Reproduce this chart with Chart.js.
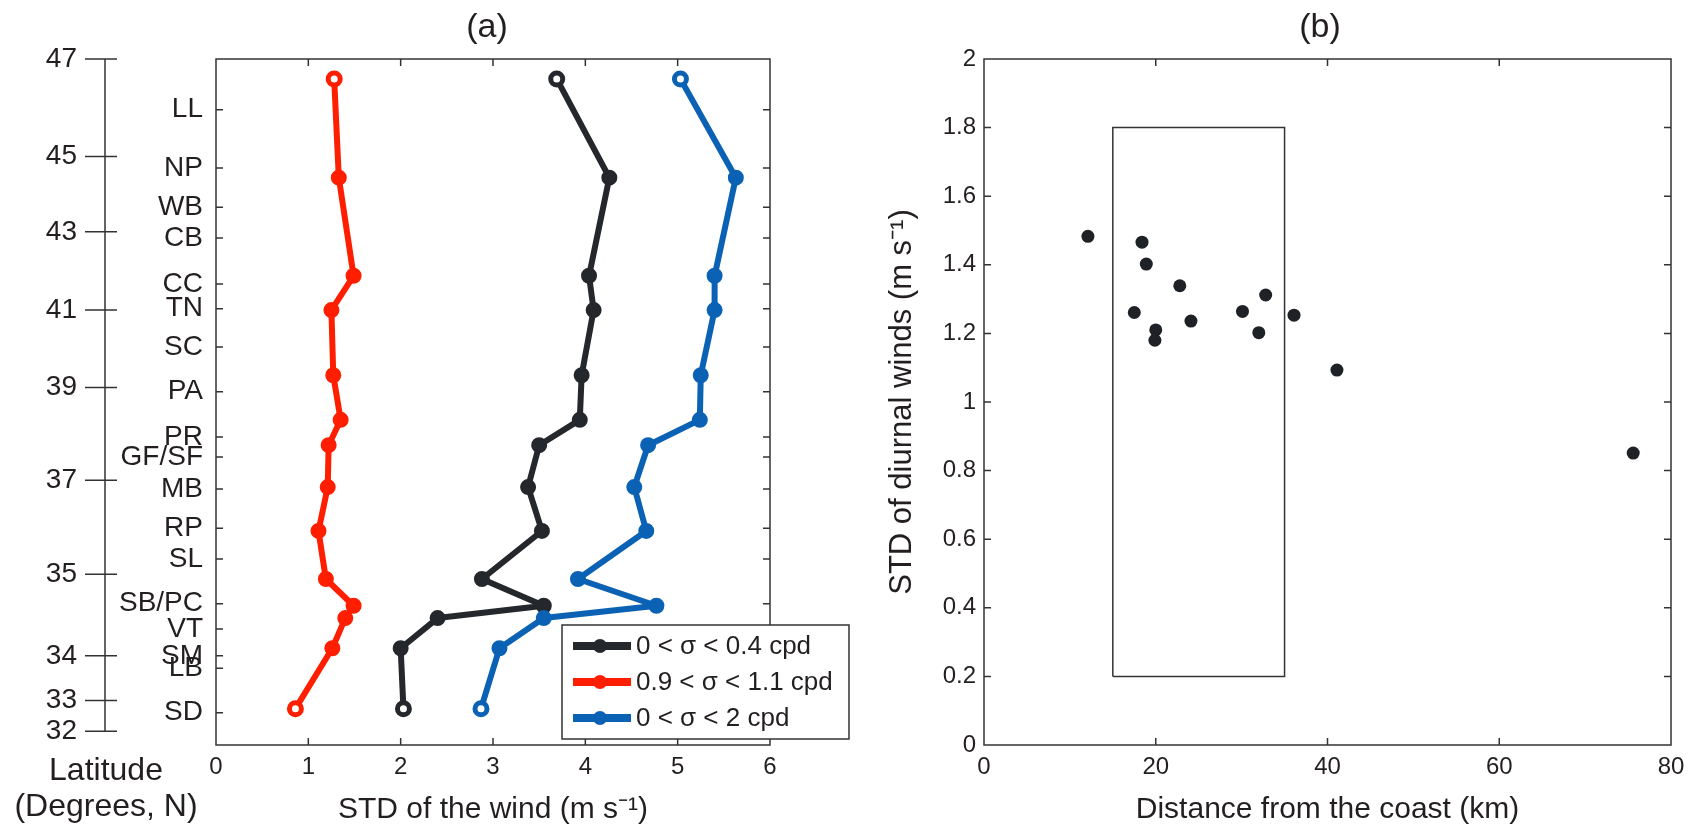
<!DOCTYPE html>
<html lang="en">
<head>
<meta charset="UTF-8">
<title>STD of the wind / diurnal winds</title>
<script src="https://cdn.jsdelivr.net/npm/chart.js"></script>
<style>
  body { margin: 0; background: #fff; }
  .figure {
    position: relative;
    width: 1701px;
    height: 826px;
    font-family: 'Liberation Sans', Arial, sans-serif;
    color: #231f20;
  }
  .figure canvas { position: absolute; top: 0; }
  #chartA { left: 0; }
  #chartB { left: 860px; }
  .panel-title {
    position: absolute;
    top: 8px;
    width: 100px;
    font-size: 34px;
    line-height: 34px;
    text-align: center;
  }
  .lat-title {
    position: absolute;
    left: 6px;
    top: 751px;
    width: 200px;
    font-size: 32px;
    line-height: 36px;
    text-align: center;
  }
</style>
</head>
<body>
<div class="figure">
  <canvas id="chartA" width="860" height="826"></canvas>
  <canvas id="chartB" width="841" height="826"></canvas>
  <div class="panel-title" style="left: 437px;">(a)</div>
  <div class="panel-title" style="left: 1270px;">(b)</div>
  <div class="lat-title">Latitude<br>(Degrees, N)</div>
</div>

<script>
    // --- panel (a): positions along the coast (0 = bottom of axis, 1000 = top)
    const stations = ['LL', 'NP', 'WB', 'CB', 'CC', 'TN', 'SC', 'PA', 'PR', 'GF/SF',
                      'MB', 'RP', 'SL', 'SB/PC', 'VT', 'SM', 'LB', 'SD'];
    const stationPos = [926, 841, 784, 739, 672, 636, 580, 515, 449, 420,
                        373, 316, 271, 206, 169, 130, 112, 47];
    const latTicks = [47, 45, 43, 41, 39, 37, 35, 34, 33, 32];
    const latPos = [1000, 858, 748, 634, 521, 386, 249, 130, 65, 20];

    const obsPos = [971, 827, 684, 634, 539, 474, 437, 376, 312, 242, 203, 185, 141, 53];
    const stdLow = [3.69, 4.26, 4.04, 4.09, 3.96, 3.94, 3.50, 3.38, 3.53, 2.88, 3.55, 2.40, 2.00, 2.03];
    const stdDiurnal = [1.28, 1.33, 1.49, 1.25, 1.27, 1.35, 1.22, 1.21, 1.11, 1.19, 1.49, 1.40, 1.26, 0.86];
    const stdAll = [5.03, 5.63, 5.40, 5.40, 5.25, 5.24, 4.68, 4.53, 4.66, 3.92, 4.77, 3.55, 3.07, 2.87];
    const windTicks = [0, 1, 2, 3, 4, 5, 6];

    // --- panel (b)
    const coastDist = [12.1, 18.4, 18.9, 22.8, 17.5, 20.0, 19.9, 24.1, 30.1, 32.8, 32.0, 36.1, 41.1, 75.6];
    const diurnalStd = [1.483, 1.466, 1.402, 1.339, 1.261, 1.210, 1.180, 1.236, 1.264, 1.312, 1.202, 1.253, 1.093, 0.851];
    const boxX = [15, 35, 35, 15, 15];
    const boxY = [0.2, 0.2, 1.8, 1.8, 0.2];
    const distTicks = [0, 20, 40, 60, 80];
    const stdTicks = [0, 0.2, 0.4, 0.6, 0.8, 1, 1.2, 1.4, 1.6, 1.8, 2];

    const INK = '#333';
    const TEXT = '#231f20';
    const FONT = "'Liberation Sans', Arial, sans-serif";

    Chart.defaults.font.family = FONT;
    Chart.defaults.color = TEXT;

    function isEnd(i, n) { return i === 0 || i === n - 1; }

    function series(label, values, color, order) {
        const n = values.length;
        return {
            label: label,
            order: order,
            data: values.map((v, i) => ({ x: v, y: obsPos[i] })),
            borderColor: color,
            borderWidth: 6,
            borderJoinStyle: 'round',
            borderCapStyle: 'round',
            pointBackgroundColor: values.map((_, i) => isEnd(i, n) ? '#fff' : color),
            pointBorderColor: color,
            pointRadius: values.map((_, i) => isEnd(i, n) ? 6 : 7),
            pointBorderWidth: values.map((_, i) => isEnd(i, n) ? 5 : 2),
            tension: 0
        };
    }

    // frame + inward ticks on all four sides
    function frameTicks(xId, yId, xTicks, yTicks) {
        return {
            id: 'frameTicks',
            beforeDatasetsDraw(chart) {
                const { ctx, chartArea: a } = chart;
                const sx = chart.scales[xId], sy = chart.scales[yId];
                ctx.save();
                ctx.strokeStyle = INK;
                ctx.lineWidth = 1.5;
                ctx.strokeRect(a.left, a.top, a.right - a.left, a.bottom - a.top);
                ctx.beginPath();
                xTicks.forEach(v => {
                    const px = sx.getPixelForValue(v);
                    ctx.moveTo(px, a.bottom); ctx.lineTo(px, a.bottom - 7);
                    ctx.moveTo(px, a.top); ctx.lineTo(px, a.top + 7);
                });
                yTicks.forEach(v => {
                    const py = sy.getPixelForValue(v);
                    ctx.moveTo(a.left, py); ctx.lineTo(a.left + 7, py);
                    ctx.moveTo(a.right, py); ctx.lineTo(a.right - 7, py);
                });
                ctx.stroke();
                ctx.restore();
            }
        };
    }

    // separate latitude axis to the left of the station names
    const latAxis = {
        id: 'latAxis',
        afterDraw(chart) {
            const { ctx } = chart;
            const s = chart.scales.lat;
            const x = s.right;
            ctx.save();
            ctx.strokeStyle = INK;
            ctx.lineWidth = 1.5;
            ctx.beginPath();
            ctx.moveTo(x, s.getPixelForValue(latPos[0]));
            ctx.lineTo(x, s.getPixelForValue(latPos[latPos.length - 1]));
            latPos.forEach(v => {
                const py = s.getPixelForValue(v);
                ctx.moveTo(x - 20, py); ctx.lineTo(x + 12, py);
            });
            ctx.stroke();
            ctx.restore();
        }
    };

    // boxed legend in the lower right corner of panel (a)
    const boxLegend = {
        id: 'boxLegend',
        afterDraw(chart) {
            const { ctx, chartArea: a } = chart;
            const left = a.right - 208, top = a.bottom - 120, w = 287, h = 114;
            ctx.save();
            ctx.fillStyle = '#fff';
            ctx.fillRect(left, top, w, h);
            ctx.strokeStyle = INK;
            ctx.lineWidth = 1.5;
            ctx.strokeRect(left, top, w, h);
            chart.data.datasets.forEach((ds, i) => {
                const y = top + 21 + i * 36;
                ctx.strokeStyle = ds.borderColor;
                ctx.lineWidth = 8;
                ctx.beginPath();
                ctx.moveTo(left + 11, y);
                ctx.lineTo(left + 69, y);
                ctx.stroke();
                ctx.fillStyle = ds.borderColor;
                ctx.beginPath();
                ctx.arc(left + 38, y, 7, 0, Math.PI * 2);
                ctx.fill();
                ctx.fillStyle = TEXT;
                ctx.font = '26px ' + FONT;
                ctx.textBaseline = 'middle';
                ctx.fillText(ds.label, left + 74, y + 1);
            });
            ctx.restore();
        }
    };

    new Chart(document.getElementById('chartA'), {
        type: 'line',
        data: {
            datasets: [
                series('0 < σ < 0.4 cpd', stdLow, '#24272c', 2),
                series('0.9 < σ < 1.1 cpd', stdDiurnal, '#ff1e00', 1),
                series('0 < σ < 2 cpd', stdAll, '#0b62b5', 0)
            ]
        },
        options: {
            responsive: false,
            animation: false,
            layout: { padding: { top: 59, right: 90, bottom: 0, left: 0 } },
            plugins: { legend: { display: false }, tooltip: { enabled: false } },
            scales: {
                x: {
                    type: 'linear', position: 'bottom', min: 0, max: 6,
                    grid: { display: false, drawTicks: false },
                    border: { display: false },
                    afterBuildTicks: s => { s.ticks = windTicks.map(v => ({ value: v })); },
                    ticks: { font: { size: 24 }, padding: 8, color: TEXT },
                    title: {
                        display: true, text: 'STD of the wind (m s⁻¹)', color: TEXT,
                        font: { size: 30, lineHeight: 1 }, padding: { top: 0, bottom: 1 }
                    },
                    afterFit: s => { s.height = 81; }
                },
                y: {
                    type: 'linear', position: 'left', weight: 0, min: 0, max: 1000,
                    grid: { display: false, drawTicks: false },
                    border: { display: false },
                    afterBuildTicks: s => { s.ticks = stationPos.map(v => ({ value: v })); },
                    ticks: {
                        autoSkip: false, font: { size: 28 }, padding: 13, color: TEXT,
                        callback: (v, i) => stations[i]
                    },
                    afterFit: s => { s.width = 111; }
                },
                lat: {
                    axis: 'y', type: 'linear', position: 'left', weight: 1, min: 0, max: 1000,
                    grid: { display: false, drawTicks: false },
                    border: { display: false },
                    afterBuildTicks: s => { s.ticks = latPos.map(v => ({ value: v })); },
                    ticks: {
                        autoSkip: false, font: { size: 28 }, padding: 28, color: TEXT,
                        callback: (v, i) => String(latTicks[i])
                    },
                    afterFit: s => { s.width = 105; }
                }
            }
        },
        plugins: [frameTicks('x', 'y', [1, 2, 3, 4, 5], stationPos), latAxis, boxLegend]
    });

    new Chart(document.getElementById('chartB'), {
        type: 'scatter',
        data: {
            datasets: [
                {
                    label: 'Coastal band',
                    data: boxX.map((x, i) => ({ x: x, y: boxY[i] })),
                    showLine: true,
                    borderColor: INK,
                    borderWidth: 1.5,
                    pointRadius: 0
                },
                {
                    label: 'Stations',
                    data: coastDist.map((x, i) => ({ x: x, y: diurnalStd[i] })),
                    pointRadius: 6.5,
                    pointBackgroundColor: '#1e2126',
                    pointBorderWidth: 0
                }
            ]
        },
        options: {
            responsive: false,
            animation: false,
            layout: { padding: { top: 59, right: 30, bottom: 0, left: 0 } },
            plugins: { legend: { display: false }, tooltip: { enabled: false } },
            scales: {
                x: {
                    type: 'linear', position: 'bottom', min: 0, max: 80,
                    grid: { display: false, drawTicks: false },
                    border: { display: false },
                    afterBuildTicks: s => { s.ticks = distTicks.map(v => ({ value: v })); },
                    ticks: { font: { size: 24 }, padding: 8, color: TEXT },
                    title: {
                        display: true, text: 'Distance from the coast (km)', color: TEXT,
                        font: { size: 30, lineHeight: 1 }, padding: { top: 0, bottom: 1 }
                    },
                    afterFit: s => { s.height = 81; }
                },
                y: {
                    type: 'linear', position: 'left', min: 0, max: 2,
                    grid: { display: false, drawTicks: false },
                    border: { display: false },
                    afterBuildTicks: s => { s.ticks = stdTicks.map(v => ({ value: v })); },
                    ticks: {
                        autoSkip: false, font: { size: 24 }, padding: 8, color: TEXT,
                        callback: (v, i) => String(stdTicks[i])
                    },
                    title: {
                        display: true, text: 'STD of diurnal winds (m s⁻¹)', color: TEXT,
                        font: { size: 31, lineHeight: 1 }, padding: { top: 27, bottom: 0 }
                    },
                    afterFit: s => { s.width = 124; }
                }
            }
        },
        plugins: [frameTicks('x', 'y', [20, 40, 60], [0.2, 0.4, 0.6, 0.8, 1, 1.2, 1.4, 1.6, 1.8])]
    });
</script>
</body>
</html>
